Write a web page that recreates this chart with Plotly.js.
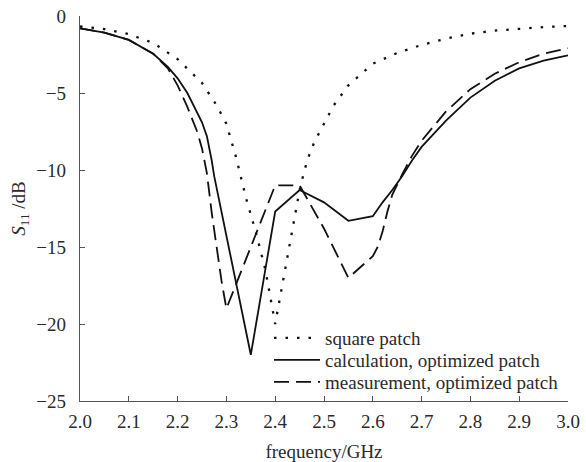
<!DOCTYPE html>
<html>
<head>
<meta charset="utf-8">
<script src="https://cdn.plot.ly/plotly-3.0.1.min.js"></script>
<style>html,body{margin:0;padding:0;background:#fff;}#chart{width:586px;height:462px;}</style>
</head>
<body>
<div id="chart"></div>
<script>
// Square patch (dotted)
const freqSquare = [2.00,2.05,2.10,2.15,2.20,2.25,2.28,2.30,2.32,2.34,2.36,2.38,2.40,2.41,2.42,2.43,2.44,2.45,2.46,2.47,2.48,2.50,2.52,2.55,2.60,2.65,2.70,2.75,2.80,2.85,2.90,2.95,3.00];
const s11Square = [-0.68,-0.85,-1.18,-1.75,-2.8,-4.35,-5.8,-7.0,-9.2,-11.8,-14.0,-16.5,-20.0,-18.3,-16.6,-14.8,-13.0,-11.3,-10.0,-9.0,-8.2,-7.0,-5.8,-4.5,-3.1,-2.4,-1.88,-1.47,-1.15,-0.95,-0.82,-0.72,-0.65];

// Calculation, optimized patch (solid)
const freqCalc = [2.00,2.05,2.10,2.15,2.18,2.20,2.22,2.24,2.25,2.26,2.265,2.27,2.275,2.35,2.40,2.45,2.50,2.55,2.60,2.62,2.64,2.66,2.68,2.70,2.75,2.80,2.85,2.90,2.95,3.00];
const s11Calc = [-0.8,-1.08,-1.55,-2.45,-3.3,-4.05,-5.0,-6.2,-6.9,-7.8,-8.5,-9.4,-10.4,-22.0,-12.7,-11.3,-12.1,-13.3,-13.0,-12.1,-11.3,-10.4,-9.4,-8.5,-6.8,-5.3,-4.2,-3.4,-2.9,-2.55];

// Measurement, optimized patch (dashed)
const freqMeas = [2.00,2.05,2.10,2.15,2.18,2.20,2.22,2.24,2.25,2.26,2.27,2.28,2.29,2.30,2.35,2.40,2.45,2.50,2.55,2.60,2.61,2.62,2.63,2.64,2.66,2.68,2.70,2.75,2.80,2.85,2.90,2.95,3.00];
const s11Meas = [-0.8,-1.08,-1.55,-2.45,-3.4,-4.5,-5.9,-7.5,-8.6,-10.2,-12.8,-15.0,-17.2,-19.0,-15.0,-11.0,-11.0,-13.8,-17.0,-15.6,-15.0,-14.0,-12.7,-11.6,-10.3,-9.1,-8.1,-6.2,-4.75,-3.75,-3.0,-2.45,-2.1];

const seriesNames = ["square patch","calculation, optimized patch","measurement, optimized patch"];
const xTicks = [2.0,2.1,2.2,2.3,2.4,2.5,2.6,2.7,2.8,2.9,3.0];
const yTicks = [0,-5,-10,-15,-20,-25];

const fontFam = "Liberation Serif, Times New Roman, serif";
const txt = "#2a2a2a";

const traces = [
  {x: freqSquare, y: s11Square, name: seriesNames[0], mode: "lines", legend: "legend",
   line: {color: "#111", width: 2.3, dash: "2.5px,9px"}},
  {x: freqCalc, y: s11Calc, name: seriesNames[1], mode: "lines", legend: "legend2",
   line: {color: "#111", width: 1.8}},
  {x: freqMeas, y: s11Meas, name: seriesNames[2], mode: "lines", legend: "legend3",
   line: {color: "#111", width: 1.8, dash: "15px,7px"}}
];

function leg(yc) {
  return {x: 0.3873, y: yc, xanchor: "left", yanchor: "middle", bgcolor: "rgba(0,0,0,0)",
          borderwidth: 0, font: {family: fontFam, size: 19, color: txt}, itemwidth: 46};
}

const layout = {
  width: 586, height: 462,
  margin: {l: 80, r: 18, t: 16, b: 61},
  paper_bgcolor: "#fff", plot_bgcolor: "#fff",
  font: {family: fontFam, size: 18, color: txt},
  showlegend: true,
  legend: leg(0.1636),
  legend2: leg(0.1065),
  legend3: leg(0.0494),
  xaxis: {range: [2.0, 3.0], tickvals: xTicks, tickformat: ".1f", ticks: "inside", ticklen: 5,
          tickcolor: "#555", showline: true, linecolor: "#555", linewidth: 1.2, showgrid: false,
          zeroline: false, mirror: false, ticklabelstandoff: 3,
          tickfont: {family: fontFam, size: 19, color: txt},
          title: {text: "frequency/GHz", font: {family: fontFam, size: 19, color: txt}, standoff: 15}},
  yaxis: {range: [-25, 0], tickvals: yTicks, ticks: "inside", ticklen: 5,
          tickcolor: "#555", showline: true, linecolor: "#555", linewidth: 1.2, showgrid: false,
          zeroline: false, mirror: false, ticklabelstandoff: 9,
          tickfont: {family: fontFam, size: 19, color: txt},
          title: {text: "<i>S</i><sub>11</sub> /dB", font: {family: fontFam, size: 19, color: txt}, standoff: 5}}
};

Plotly.newPlot("chart", traces, layout, {displayModeBar: false, staticPlot: true});
</script>
</body>
</html>
